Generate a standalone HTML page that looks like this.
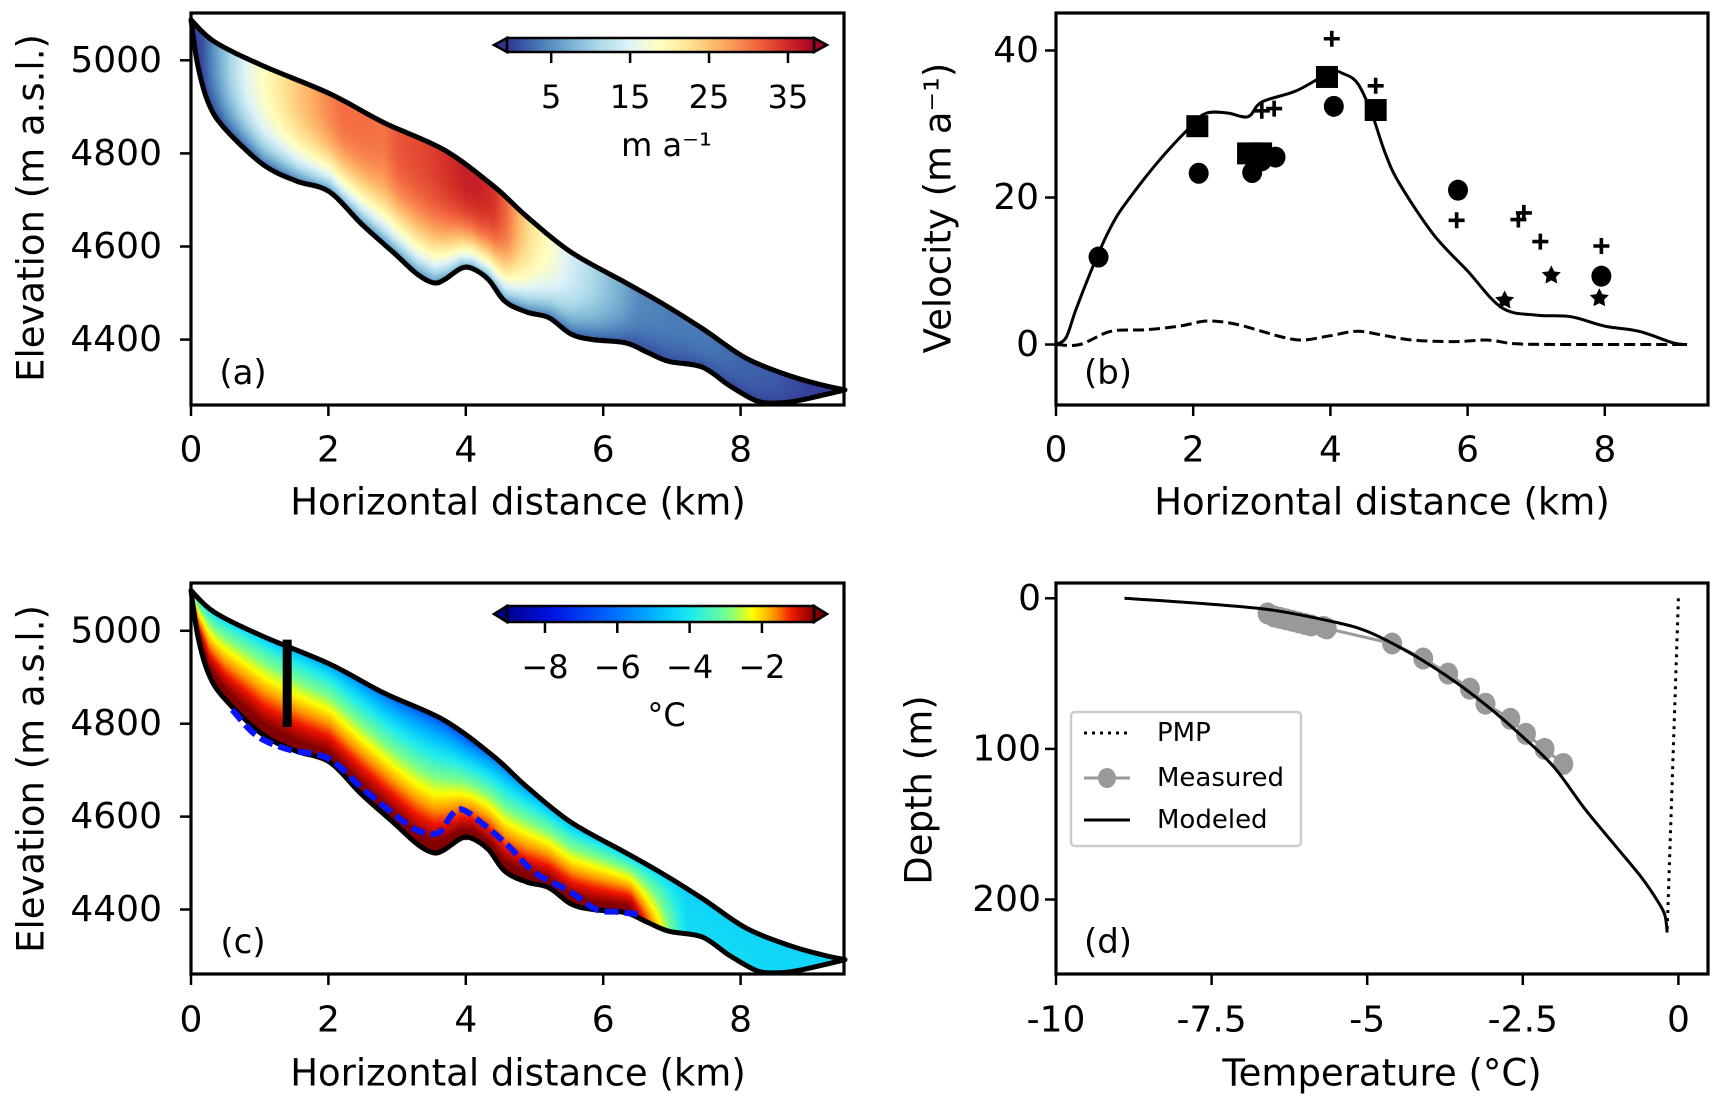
<!DOCTYPE html>
<html><head><meta charset="utf-8">
<style>
html,body{margin:0;padding:0;background:#fff;}
#wrap{position:relative;width:1720px;height:1100px;overflow:hidden;font-family:"DejaVu Sans","Liberation Sans",sans-serif;}
canvas{position:absolute;}
svg{position:absolute;left:0;top:0;}
.tk{font-family:"DejaVu Sans","Liberation Sans",sans-serif;font-size:36px;fill:#000;}
.cb{font-family:"DejaVu Sans","Liberation Sans",sans-serif;font-size:32px;fill:#000;}
.lb{font-family:"DejaVu Sans","Liberation Sans",sans-serif;font-size:37px;fill:#000;}
.pl{font-family:"DejaVu Sans","Liberation Sans",sans-serif;font-size:34px;fill:#000;}
.yl{font-family:"DejaVu Sans","Liberation Sans",sans-serif;font-size:37px;fill:#000;}
.lg{font-family:"DejaVu Sans","Liberation Sans",sans-serif;font-size:26px;fill:#000;}
</style></head>
<body>
<div id="wrap">
<canvas id="cvA" width="653" height="392" style="left:191px;top:13px"></canvas>
<canvas id="cvC" width="653" height="391" style="left:191px;top:583px"></canvas>
<svg id="sv" width="1720" height="1100" xmlns="http://www.w3.org/2000/svg"></svg>
</div>
<script>
// ---- glacier geometry (km, m a.s.l.)
const surfX=[0,0.34,1.05,2.01,2.81,3.69,4.41,4.89,5.53,6.33,6.81,7.44,8.08,8.72,9.2,9.52];
const surfZ=[5087,5040,4988,4929,4866,4807,4729,4664,4588,4522,4482,4424,4360,4322,4302,4292];
const bedX=[0,0.10,0.26,0.50,1.05,1.53,2.01,2.49,2.97,3.29,3.53,3.69,3.93,4.09,4.33,4.57,4.89,5.21,5.53,5.85,6.33,6.65,6.96,7.44,7.84,8.24,8.56,8.88,9.52];
const bedZ=[5087,4988,4906,4852,4776,4741,4718,4647,4584,4541,4522,4529,4553,4553,4529,4482,4459,4447,4412,4400,4393,4372,4353,4341,4301,4268,4264,4270,4292];
// ---- panel b data
const velLineX=[0,0.15,0.3,0.6,0.8,1,1.5,2,2.2,2.5,2.8,3,3.5,4,4.2,4.4,4.6,4.8,5,5.5,6,6.5,7,7.5,8,8.5,9,9.2];
const velLineV=[0,1,5,12,16,19,25,30,31.5,31.5,31,33,34.5,37,36.8,35.5,31.5,26,22,15,10,5,4,3.8,2.5,1.8,0.2,0];
const baseLineX=[0,0.35,0.8,1.3,1.8,2.2,2.6,3.0,3.3,3.6,4.0,4.4,4.8,5.2,5.8,6.3,6.7,7.5,9.2];
const baseLineV=[0,0,1.8,2,2.5,3.2,2.8,1.8,1.0,0.6,1.2,1.8,1.2,0.6,0.4,0.6,0.1,0,0];
const sqX=[2.06,2.8,2.99,3.95,4.66]; const sqV=[29.7,26,26,36.4,31.9];
const ciX=[0.62,2.08,2.86,3.0,3.2,4.05,5.86,7.95]; const ciV=[11.9,23.3,23.4,25,25.5,32.4,21,9.3];
const plX=[4.02,4.66,3.0,3.18,5.84,6.74,6.82,7.06,7.95]; const plV=[41.6,35.2,31.8,32.1,16.9,17,17.9,14,13.4];
const stX=[6.54,7.22,7.92]; const stV=[6,9.4,6.3];
// ---- panel c data
const ctsX=[0.6,0.95,1.4,2,2.5,3.0,3.3,3.6,3.8,3.95,4.2,4.6,5.0,5.5,5.9,6.2,6.5];
const ctsZ=[4830,4775,4745,4725,4660,4600,4570,4565,4605,4615,4590,4540,4480,4440,4400,4395,4390];
const tsX=[0,1,2,3,4,5,6,7,8,9.52]; const tsT=[-4.6,-4.8,-5.5,-6.6,-7.0,-5.6,-4.9,-4.5,-4.4,-4.4];
const tbX=[0,6.4,6.8,7.2,9.52]; const tbT=[-0.2,-0.2,-2.0,-4.2,-4.4];
const usX=velLineX, usV=velLineV;
// ---- panel d data
const modT=[-8.9,-7.5,-6.5,-5.5,-5,-4.5,-4,-3.5,-3,-2.5,-2,-1.5,-1,-0.6,-0.35,-0.22,-0.18];
const modD=[0,4,8,16,22,32,44,58,74,92,112,140,165,185,200,210,222];
const meaT=[-6.6,-6.5,-6.4,-6.3,-6.2,-6.1,-6.0,-5.9,-5.7,-5.65,-4.6,-4.1,-3.7,-3.35,-3.1,-2.7,-2.45,-2.15,-1.85];
const meaD=[10,12,13,14,15,16,17,18,19,20,30,40,50,60,70,80,90,100,110];
const pmpT=[0,-0.18]; const pmpD=[0,220];
// ---- ticks
const kmTicks=[0,2,4,6,8];
const elevTicks=[5000,4800,4600,4400];
const velTicks=[0,20,40];
const tempTicks=[-10,-7.5,-5,-2.5,0]; const tempTickLabels=["-10","-7.5","-5","-2.5","0"];
const depthTicks=[0,100,200];
const vcbTicks=[5,15,25,35]; const tcbTicks=[-8,-6,-4,-2];

const axA={x:k=>191+68.7*k,y:e=>60.3+(5000-e)*0.4655};
const axC={x:k=>191+68.7*k,y:e=>630.8+(5000-e)*0.4645};
const axB={x:k=>1056+68.6*k,y:v=>344.5-v*7.35};
const axD={x:t=>1678.4+62.24*t,y:d=>598.3+d*1.506};

function interp(xs,ys,x){if(x<=xs[0])return ys[0];for(let i=1;i<xs.length;i++){if(x<=xs[i]){const f=(x-xs[i-1])/(xs[i]-xs[i-1]);return ys[i-1]+f*(ys[i]-ys[i-1]);}}return ys[ys.length-1];}
function cmapPos(stops,t){t=Math.max(0,Math.min(1,t));for(let i=1;i<stops.length;i++){if(t<=stops[i][0]){const a=stops[i-1],b=stops[i];const f=(t-a[0])/(b[0]-a[0]);return [1,2,3].map(k=>Math.round(a[k]+(b[k]-a[k])*f));}}const l=stops[stops.length-1];return [l[1],l[2],l[3]];}
const RdYlBu=[[0,49,54,149],[0.1,69,117,180],[0.2,116,173,209],[0.3,171,217,233],[0.4,224,243,248],[0.5,255,255,191],[0.6,254,224,144],[0.7,253,174,97],[0.8,244,109,67],[0.9,215,48,39],[1,165,0,38]];
const JET=[[0,0,0,140],[0.15,0,20,230],[0.35,0,110,255],[0.5,0,190,255],[0.6,30,235,240],[0.72,120,255,140],[0.8,255,255,0],[0.87,255,150,0],[0.93,240,20,0],[1,128,0,0]];

function field(cid,ax,top,fn){const cv=document.getElementById(cid);const ctx=cv.getContext('2d');const W=cv.width,H=cv.height;const img=ctx.createImageData(W,H);
for(let px=0;px<W;px++){const k=px/68.7;if(k>9.52)continue;const zs=interp(surfX,surfZ,k),zb=interp(bedX,bedZ,k);const ys=ax.y(zs)-top,yb=ax.y(zb)-top;
for(let py=Math.max(0,Math.floor(ys));py<=Math.min(H-1,Math.ceil(yb));py++){let z=(yb-py)/Math.max(0.5,(yb-ys));z=Math.max(0,Math.min(1,z));const c=fn(k,z);const o=(py*W+px)*4;img.data[o]=c[0];img.data[o+1]=c[1];img.data[o+2]=c[2];img.data[o+3]=255;}}
ctx.putImageData(img,0,0);}
field('cvA',axA,13,(k,z)=>{const U=interp(usX,usV,k);const v=U*(0.15+0.85*(1-Math.pow(1-z,3)))+0.5;return cmapPos(RdYlBu,v/40);});
field('cvC',axC,583,(k,z)=>{const ts=interp(tsX,tsT,k),tb=interp(tbX,tbT,k);const T=ts+(tb-ts)*Math.pow(1-z,0.65);return cmapPos(JET,(T+9.05)/8.5);});

const NS='http://www.w3.org/2000/svg';const sv=document.getElementById('sv');
function mk(tag,attrs,parent){const e=document.createElementNS(NS,tag);for(const k in attrs)e.setAttribute(k,attrs[k]);(parent||sv).appendChild(e);return e;}
function txt(s,x,y,cls,anchor,parent,rot){const e=mk('text',{x:x,y:y,class:cls,'text-anchor':anchor||'middle','dominant-baseline':'central'},parent);if(rot)e.setAttribute('transform','rotate(-90 '+x+' '+y+')');e.textContent=s;return e;}
function pts(xs,ys,ax){return xs.map((x,i)=>[ax.x(x),ax.y(ys[i])]);}
function smooth(p,move){let d=(move?'M':'L')+p[0][0].toFixed(1)+','+p[0][1].toFixed(1);for(let i=0;i<p.length-1;i++){const p0=p[Math.max(0,i-1)],p1=p[i],p2=p[i+1],p3=p[Math.min(p.length-1,i+2)];const c1=[p1[0]+(p2[0]-p0[0])/6,p1[1]+(p2[1]-p0[1])/6],c2=[p2[0]-(p3[0]-p1[0])/6,p2[1]-(p3[1]-p1[1])/6];d+='C'+c1.map(v=>v.toFixed(1))+' '+c2.map(v=>v.toFixed(1))+' '+p2.map(v=>v.toFixed(1));}return d;}
function path(xs,ys,ax){return smooth(pts(xs,ys,ax),true);}
function lin(xs,ys,ax){return xs.map((x,i)=>(i?'L':'M')+ax.x(x).toFixed(1)+','+ax.y(ys[i]).toFixed(1)).join('');}

function frame(name,l,t,r,b){const f=mk('rect',{x:l,y:t,width:r-l,height:b-t,fill:'none',stroke:'#000','stroke-width':3.2});}
function xticks(g,ticks,labels,ax,b,ly){ticks.forEach((v,i)=>{const x=ax.x(v);mk('line',{x1:x,y1:b,x2:x,y2:b+11,stroke:'#000','stroke-width':2.5},g);txt(labels[i],x,ly,'tk','middle',g);});}
function yticks(g,ticks,labels,ax,l,gap){ticks.forEach((v,i)=>{const y=ax.y(v);mk('line',{x1:l,y1:y,x2:l-11,y2:y,stroke:'#000','stroke-width':2.5},g);txt(labels[i],l-gap,y,'tk','end',g);});}

function glacier(g,ax){const d=smooth(pts(surfX,surfZ,ax),true)+smooth(pts(bedX.slice().reverse(),bedZ.slice().reverse(),ax),false)+'Z';const p=mk('path',{d:d,fill:'none',stroke:'#000','stroke-width':5,'stroke-linejoin':'round'},g);}

// ===== Panel a
let gA=mk('g',{});
glacier(gA,axA);
frame('panel-a-frame',191,13,844,405);
xticks(gA,kmTicks,kmTicks.map(String),axA,405,450);
yticks(gA,elevTicks,elevTicks.map(String),axA,191,29);
txt('Horizontal distance (km)',518,502,'lb','middle',gA);
txt('Elevation (m a.s.l.)',31,208,'yl','middle',gA,true);
txt('(a)',243,373,'pl','middle',gA);
function colorbar(g,name,x0,x1,y0,y1,stops,lo,hi,ticks,tickLabels,unit,unitY){const id='gr'+name;const defs=mk('defs',{},g);const lg=mk('linearGradient',{id:id,x1:0,x2:1,y1:0,y2:0},defs);for(let i=0;i<=40;i++){const c=cmapPos(stops,i/40);mk('stop',{offset:i/40,'stop-color':'rgb('+c+')'},lg);}
const cb=mk('g',{},g);
const c0=cmapPos(stops,0),c1=cmapPos(stops,1);const ym=(y0+y1)/2;
mk('polygon',{points:x0+','+y0+' '+(x0-13)+','+ym+' '+x0+','+y1,fill:'rgb('+c0+')',stroke:'#000','stroke-width':2.5},cb);
mk('polygon',{points:x1+','+y0+' '+(x1+13)+','+ym+' '+x1+','+y1,fill:'rgb('+c1+')',stroke:'#000','stroke-width':2.5},cb);
mk('rect',{x:x0,y:y0,width:x1-x0,height:y1-y0,fill:'url(#'+id+')',stroke:'#000','stroke-width':2.5},cb);
ticks.forEach((v,i)=>{const x=x0+(v-lo)/(hi-lo)*(x1-x0);mk('line',{x1:x,y1:y1,x2:x,y2:y1+11,stroke:'#000','stroke-width':2.5},cb);txt(tickLabels[i],x,y1+45,'cb','middle',cb);});
txt(unit,(x0+x1)/2+6,unitY,'cb','middle',cb);}
colorbar(gA,'velocity-colorbar',507,814,38,52,RdYlBu,-0.6,38.3,vcbTicks,vcbTicks.map(String),'m a\u207B\u00B9',145);

// ===== Panel b
let gB=mk('g',{});
let pl=mk('path',{d:path(velLineX,velLineV,axB),fill:'none',stroke:'#000','stroke-width':3},gB);
pl=mk('path',{d:path(baseLineX,baseLineV,axB),fill:'none',stroke:'#000','stroke-width':3,'stroke-dasharray':'11,5'},gB);
sqX.forEach((x,i)=>{const e=mk('rect',{x:axB.x(x)-11,y:axB.y(sqV[i])-11,width:22,height:22,fill:'#000'},gB);});
ciX.forEach((x,i)=>{const e=mk('ellipse',{cx:axB.x(x),cy:axB.y(ciV[i]),rx:10,ry:10.5,fill:'#000'},gB);});
plX.forEach((x,i)=>{const cx=axB.x(x),cy=axB.y(plV[i]);const e=mk('path',{d:'M'+(cx-8)+','+cy+'H'+(cx+8)+'M'+cx+','+(cy-8)+'V'+(cy+8),stroke:'#000','stroke-width':3.6},gB);});
stX.forEach((x,i)=>{const cx=axB.x(x),cy=axB.y(stV[i]);let p=[];for(let j=0;j<10;j++){const r=j%2?5:10;const a=-Math.PI/2+j*Math.PI/5;p.push((cx+r*Math.cos(a)).toFixed(1)+','+(cy+r*Math.sin(a)).toFixed(1));}const e=mk('polygon',{points:p.join(' '),fill:'#000'},gB);});
frame('panel-b-frame',1056,13,1708,405);
xticks(gB,kmTicks,kmTicks.map(String),axB,405,450);
yticks(gB,velTicks,velTicks.map(String),axB,1056,17);
txt('Horizontal distance (km)',1382,502,'lb','middle',gB);
txt('Velocity (m a\u207B\u00B9)',938,208,'yl','middle',gB,true);
txt('(b)',1108,373,'pl','middle',gB);

// ===== Panel c
let gC=mk('g',{});
glacier(gC,axC);
pl=mk('path',{d:path(ctsX,ctsZ,axC),fill:'none',stroke:'#0a14ff','stroke-width':6,'stroke-dasharray':'14,6'},gC);
const bx=axC.x(1.4);pl=mk('line',{x1:bx,y1:axC.y(4981),x2:bx,y2:axC.y(4793),stroke:'#000','stroke-width':9},gC);
frame('panel-c-frame',191,583,844,974);
xticks(gC,kmTicks,kmTicks.map(String),axC,974,1020);
yticks(gC,elevTicks,elevTicks.map(String),axC,191,29);
txt('Horizontal distance (km)',518,1073,'lb','middle',gC);
txt('Elevation (m a.s.l.)',31,779,'yl','middle',gC,true);
txt('(c)',243,942,'pl','middle',gC);
colorbar(gC,'temperature-colorbar',507,814,606,622,JET,-9.05,-0.56,tcbTicks,tcbTicks.map(v=>'\u2212'+Math.abs(v)),'\u00B0C',715);

// ===== Panel d
let gD=mk('g',{});
pl=mk('path',{d:lin(meaT,meaD,axD),fill:'none',stroke:'#999','stroke-width':3},gD);
meaT.forEach((t,i)=>{const e=mk('ellipse',{cx:axD.x(t),cy:axD.y(meaD[i]),rx:10,ry:11,fill:'#999'},gD);});
pl=mk('path',{d:path(modT,modD,axD),fill:'none',stroke:'#000','stroke-width':3},gD);
pl=mk('path',{d:lin(pmpT,pmpD,axD),fill:'none',stroke:'#000','stroke-width':3,'stroke-dasharray':'3,5'},gD);
frame('panel-d-frame',1056,583,1708,974);
xticks(gD,tempTicks,tempTickLabels,axD,974,1020);
yticks(gD,depthTicks,depthTicks.map(String),axD,1056,15);
txt('Temperature (\u00B0C)',1382,1073,'lb','middle',gD);
txt('Depth (m)',919,790,'yl','middle',gD,true);
txt('(d)',1108,942,'pl','middle',gD);
const lgd=mk('g',{},gD);
mk('rect',{x:1071,y:712,width:230,height:134,rx:4,fill:'#fff',stroke:'#ccc','stroke-width':2.5},lgd);
mk('line',{x1:1084,y1:733,x2:1130,y2:733,stroke:'#000','stroke-width':3,'stroke-dasharray':'3,5'},lgd);
txt('PMP',1157,733,'lg','start',lgd);
mk('line',{x1:1084,y1:778,x2:1130,y2:778,stroke:'#999','stroke-width':3},lgd);
mk('ellipse',{cx:1107,cy:778,rx:9,ry:10,fill:'#999'},lgd);
txt('Measured',1157,778,'lg','start',lgd);
mk('line',{x1:1084,y1:820,x2:1130,y2:820,stroke:'#000','stroke-width':3},lgd);
txt('Modeled',1157,820,'lg','start',lgd);
</script>
</body></html>
